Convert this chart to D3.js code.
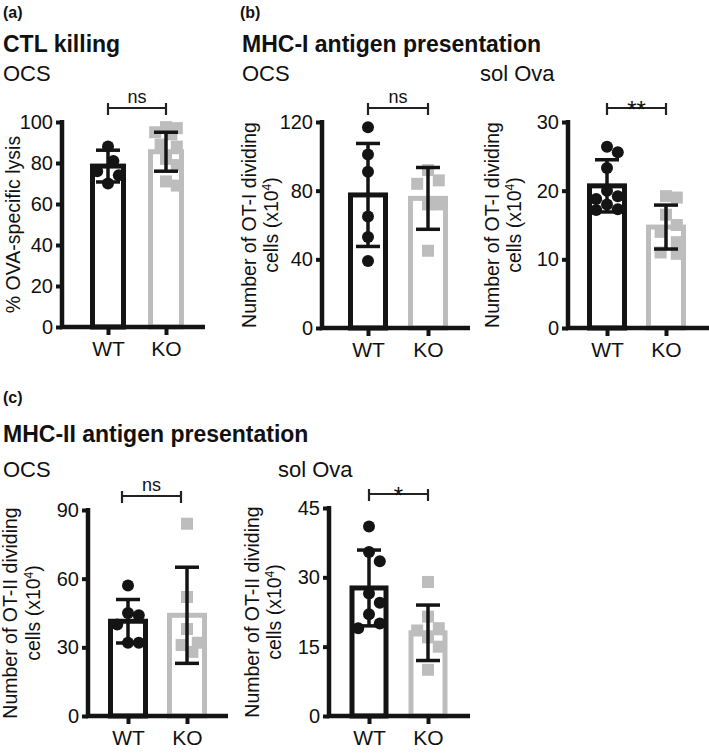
<!DOCTYPE html>
<html><head><meta charset="utf-8">
<script src="https://cdn.jsdelivr.net/npm/d3@7"></script>
<style>
body{margin:0;background:#fff}
svg{display:block}
text{font-family:"Liberation Sans",Arial,Helvetica,sans-serif;fill:#111}
</style>
</head><body><svg id="c" width="709" height="755"></svg>
<script>
const groups = ["WT", "KO"];

// (a) CTL killing — OCS
const aTicks = [0, 20, 40, 60, 80, 100];
const aMean = [78.5, 85.5];
const aSD = [7.75, 9.5];
const aWT = [88, 81, 76, 74, 70];
const aKO = [97.5, 97, 95, 94, 89, 88, 82, 79, 71, 69];
const aSig = "ns";

// (b) MHC-I — OCS
const b1Ticks = [0, 40, 80, 120];
const b1Mean = [77.5, 75.5];
const b1SD = [30, 18];
const b1WT = [117, 101, 91, 65, 53, 39];
const b1KO = [92, 86, 84, 72, 72, 45];
const b1Sig = "ns";

// (b) MHC-I — sol Ova
const b2Ticks = [0, 10, 20, 30];
const b2Mean = [20.7, 14.7];
const b2SD = [3.8, 3.2];
const b2WT = [26.4, 25.6, 23.3, 20, 19.2, 18.8, 18, 17.3, 17.2];
const b2KO = [19.2, 19, 16.5, 15, 14, 12.5, 11, 10.8];
const b2Sig = "**";

// (c) MHC-II — OCS
const c1Ticks = [0, 30, 60, 90];
const c1Mean = [41.4, 44];
const c1SD = [9.5, 21];
const c1WT = [57, 45, 44, 40, 32, 32];
const c1KO = [84, 52, 38, 32, 31, 28];
const c1Sig = "ns";

// (c) MHC-II — sol Ova
const c2Ticks = [0, 15, 30, 45];
const c2Mean = [27.7, 18];
const c2SD = [8.2, 6];
const c2WT = [41, 35.5, 33.5, 26.5, 24.5, 22, 20, 19];
const c2KO = [29, 21.5, 19, 18.5, 17, 15, 10];
const c2Sig = "*";

const headers = [
  {t: "(a)", x: 3, y: 18, s: 16, w: "bold"},
  {t: "(b)", x: 240, y: 18, s: 16, w: "bold"},
  {t: "(c)", x: 3, y: 403, s: 16, w: "bold"},
  {t: "CTL killing", x: 3, y: 52, s: 23, w: "bold"},
  {t: "MHC-I antigen presentation", x: 242, y: 52, s: 23, w: "bold"},
  {t: "MHC-II antigen presentation", x: 3, y: 442, s: 23, w: "bold"},
  {t: "OCS", x: 3, y: 81, s: 22, w: "normal"},
  {t: "OCS", x: 242, y: 81, s: 22, w: "normal"},
  {t: "sol Ova", x: 480, y: 81, s: 22, w: "normal"},
  {t: "OCS", x: 3, y: 477, s: 22, w: "normal"},
  {t: "sol Ova", x: 278, y: 477, s: 22, w: "normal"}
];

const svg = d3.select("#c");
const BLACK = "#141414", GREY = "#bdbdbd";

svg.selectAll("text.hdr").data(headers).join("text")
  .attr("class", "hdr")
  .attr("x", d => d.x).attr("y", d => d.y)
  .attr("font-size", d => d.s).attr("font-weight", d => d.w)
  .text(d => d.t);

const panels = [
  {ticks: aTicks, mean: aMean, sd: aSD, pts: [aWT, aKO], sig: aSig,
   ax: 62, xEnd: 205, y0: 327, yTop: 122, cx: [108, 166], barW: 36, brOff: 0,
   title: [["% OVA-specific lysis", 20]]},
  {ticks: b1Ticks, mean: b1Mean, sd: b1SD, pts: [b1WT, b1KO], sig: b1Sig,
   ax: 322, xEnd: 470, y0: 328, yTop: 122, cx: [368, 428], barW: 40, brOff: 0,
   title: [["Number of OT-I dividing", 256], ["cells (x10", 278, true]]},
  {ticks: b2Ticks, mean: b2Mean, sd: b2SD, pts: [b2WT, b2KO], sig: b2Sig,
   ax: 568, xEnd: 709, y0: 328, yTop: 122, cx: [607, 666], barW: 40, brOff: 0,
   title: [["Number of OT-I dividing", 499], ["cells (x10", 521, true]]},
  {ticks: c1Ticks, mean: c1Mean, sd: c1SD, pts: [c1WT, c1KO], sig: c1Sig,
   ax: 88, xEnd: 228, y0: 716, yTop: 510, cx: [128, 187], barW: 40, brOff: -6,
   title: [["Number of OT-II dividing", 17], ["cells (x10", 40, true]]},
  {ticks: c2Ticks, mean: c2Mean, sd: c2SD, pts: [c2WT, c2KO], sig: c2Sig,
   ax: 329, xEnd: 470, y0: 716, yTop: 508, cx: [369, 428], barW: 39, brOff: 0,
   title: [["Number of OT-II dividing", 259], ["cells (x10", 281, true]]}
];

const R = 6;
function swarm(vals, y, cx, r, maxOff) {
  const placed = [];
  const sorted = vals.slice().sort((a, b) => b - a);
  const need = 2 * r + 3;
  sorted.forEach(v => {
    const py = y(v);
    const cands = [0];
    for (let k = 1; k * r * 0.9 <= maxOff; k++) cands.push(k * r * 0.9, -k * r * 0.9);
    let best = 0, bestD = -1;
    for (const c of cands) {
      const d = placed.length ? d3.min(placed, p => Math.hypot(p.x - (cx + c), p.y - py)) : Infinity;
      if (d >= need) { best = c; bestD = Infinity; break; }
      if (d > bestD) { bestD = d; best = c; }
    }
    placed.push({x: cx + best, y: py, v});
  });
  return placed;
}

panels.forEach(P => {
  const g = svg.append("g");
  const yMax = P.ticks[P.ticks.length - 1];
  const y = d3.scaleLinear().domain([0, yMax]).range([P.y0, P.yTop]);
  const x = d3.scalePoint().domain(groups).range(P.cx);

  // bars
  g.selectAll("rect.bar").data(groups).join("rect")
    .attr("x", (d) => x(d) - P.barW / 2 + 2.5)
    .attr("width", P.barW - 5)
    .attr("y", (d, i) => y(P.mean[i]))
    .attr("height", (d, i) => P.y0 - y(P.mean[i]))
    .attr("fill", "#fff")
    .attr("stroke", (d, i) => i === 0 ? BLACK : GREY)
    .attr("stroke-width", 5);

  // points
  const maxOff = P.barW / 2 - R + 1;
  const wt = swarm(P.pts[0], y, x("WT"), R, maxOff);
  const ko = swarm(P.pts[1], y, x("KO"), R, maxOff);
  g.selectAll("circle.pt").data(wt).join("circle")
    .attr("cx", d => d.x).attr("cy", d => d.y).attr("r", R).attr("fill", BLACK);
  g.selectAll("rect.pt").data(ko).join("rect")
    .attr("x", d => d.x - R).attr("y", d => d.y - R)
    .attr("width", 2 * R).attr("height", 2 * R).attr("fill", GREY);

  // error bars
  const capW = 24;
  groups.forEach((gr, i) => {
    const xc = x(gr), hi = y(P.mean[i] + P.sd[i]), lo = y(P.mean[i] - P.sd[i]);
    const eb = g.append("g").attr("stroke", BLACK).attr("stroke-width", 3.5);
    eb.append("line").attr("x1", xc).attr("x2", xc).attr("y1", hi).attr("y2", lo);
    eb.append("line").attr("x1", xc - capW / 2).attr("x2", xc + capW / 2).attr("y1", hi).attr("y2", hi);
    eb.append("line").attr("x1", xc - capW / 2).attr("x2", xc + capW / 2).attr("y1", lo).attr("y2", lo);
  });

  // y axis
  const yAxis = d3.axisLeft(y).tickValues(P.ticks).tickSize(6).tickPadding(3).tickFormat(d3.format("d"));
  const ya = g.append("g").attr("transform", `translate(${P.ax},0)`).call(yAxis);
  ya.select(".domain").remove();
  ya.selectAll(".tick line").attr("stroke", BLACK).attr("stroke-width", 4);
  ya.selectAll(".tick text").attr("font-size", 20).attr("fill", BLACK)
    .attr("font-family", "Liberation Sans, Arial, sans-serif");
  g.append("line").attr("x1", P.ax).attr("x2", P.ax).attr("y1", P.yTop - 2).attr("y2", P.y0 + 2)
    .attr("stroke", BLACK).attr("stroke-width", 4.5);

  // x axis
  const xAxis = d3.axisBottom(x).tickSize(8).tickPadding(6);
  const xa = g.append("g").attr("transform", `translate(0,${P.y0})`).call(xAxis);
  xa.select(".domain").remove();
  xa.selectAll(".tick line").attr("stroke", BLACK).attr("stroke-width", 4);
  xa.selectAll(".tick text").attr("font-size", 21).attr("fill", BLACK)
    .attr("font-family", "Liberation Sans, Arial, sans-serif");
  g.append("line").attr("x1", P.ax - 2).attr("x2", P.xEnd).attr("y1", P.y0).attr("y2", P.y0)
    .attr("stroke", BLACK).attr("stroke-width", 4.5);

  // significance bracket
  const bY = P.yTop - 14;
  const x1 = x("WT") + P.brOff, x2 = x("KO") + P.brOff;
  const br = g.append("g").attr("stroke", "#222").attr("stroke-width", 2.2);
  br.append("line").attr("x1", x1).attr("x2", x2).attr("y1", bY).attr("y2", bY);
  br.append("line").attr("x1", x1).attr("x2", x1).attr("y1", bY - 5).attr("y2", bY + 7);
  br.append("line").attr("x1", x2).attr("x2", x2).attr("y1", bY - 5).attr("y2", bY + 7);
  const isStar = P.sig.indexOf("*") >= 0;
  g.append("text").attr("x", (x1 + x2) / 2).attr("y", isStar ? bY + 10 : bY - 5)
    .attr("text-anchor", "middle").attr("font-size", isStar ? 24 : 18).text(P.sig);

  // y titles
  const midY = (P.y0 + P.yTop) / 2;
  P.title.forEach(tl => {
    const t = g.append("text")
      .attr("transform", `translate(${tl[1]},${midY}) rotate(-90)`)
      .attr("text-anchor", "middle").attr("font-size", 19.5).text(tl[0]);
    if (tl[2]) {
      t.append("tspan").attr("dy", -7).attr("font-size", 12).text("4");
      t.append("tspan").attr("dy", 7).text(")");
    }
  });
});
</script>
</body></html>
